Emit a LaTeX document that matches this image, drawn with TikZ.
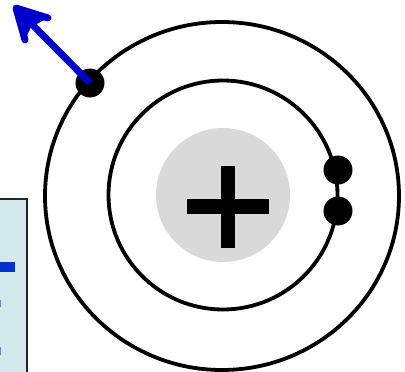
\documentclass[tikz,border=0pt]{standalone}
\usetikzlibrary{arrows.meta}
\definecolor{boxfill}{HTML}{D4E9EB}
\definecolor{eblue}{HTML}{0000CC}
\definecolor{barblue}{HTML}{0033CC}
\definecolor{nucgray}{HTML}{D9D9D9}
\tikzset{
  orbit/.style={draw=black, line width=3.8pt},
  electron/.style={circle, fill=black, minimum size=29pt, inner sep=0pt},
  nucleus/.style={circle, fill=nucgray, minimum size=134pt, inner sep=0pt},
  plusbar/.style={fill=black},
  motion/.style={draw=eblue, line width=7pt},
  barb/.style={draw=eblue, line width=7pt, line cap=round, line join=round},
}
\begin{document}
\begin{tikzpicture}[x=1pt,y=-1pt]
\useasboundingbox (0,0) rectangle (405,372);
\clip (0,0) rectangle (405,372);
% side box
\path[fill=boxfill, draw=black!85, line width=1.5pt] (-3,199) rectangle (27,376);
\fill[barblue] (-1,262) rectangle (15,272);
\fill[barblue!60] (-1,300) rectangle (1,307);
\fill[barblue!60] (-1,347) rectangle (1,355);
% orbits
\draw[orbit] (222,196) ellipse (177 and 174);
\draw[orbit] (223,195) circle (114.5);
% nucleus
\node[nucleus] (nuc) at (223,195) {};
\fill[plusbar] (187,199) rectangle (269,214);
\fill[plusbar] (221,166) rectangle (235,248);
% electrons
\node[electron] (e1) at (90,83) {};
\node[electron] (e2) at (338,170) {};
\node[electron] (e3) at (338,211) {};
\coordinate (tip) at (18,10);
\draw[motion] (e1.center) -- (tip);
\fill[eblue] (16,8) -- (25,40) -- (31,27) -- (48,18) -- cycle;
\draw[barb] (25,40) -- (16,8) -- (48,18);
\end{tikzpicture}
\end{document}
